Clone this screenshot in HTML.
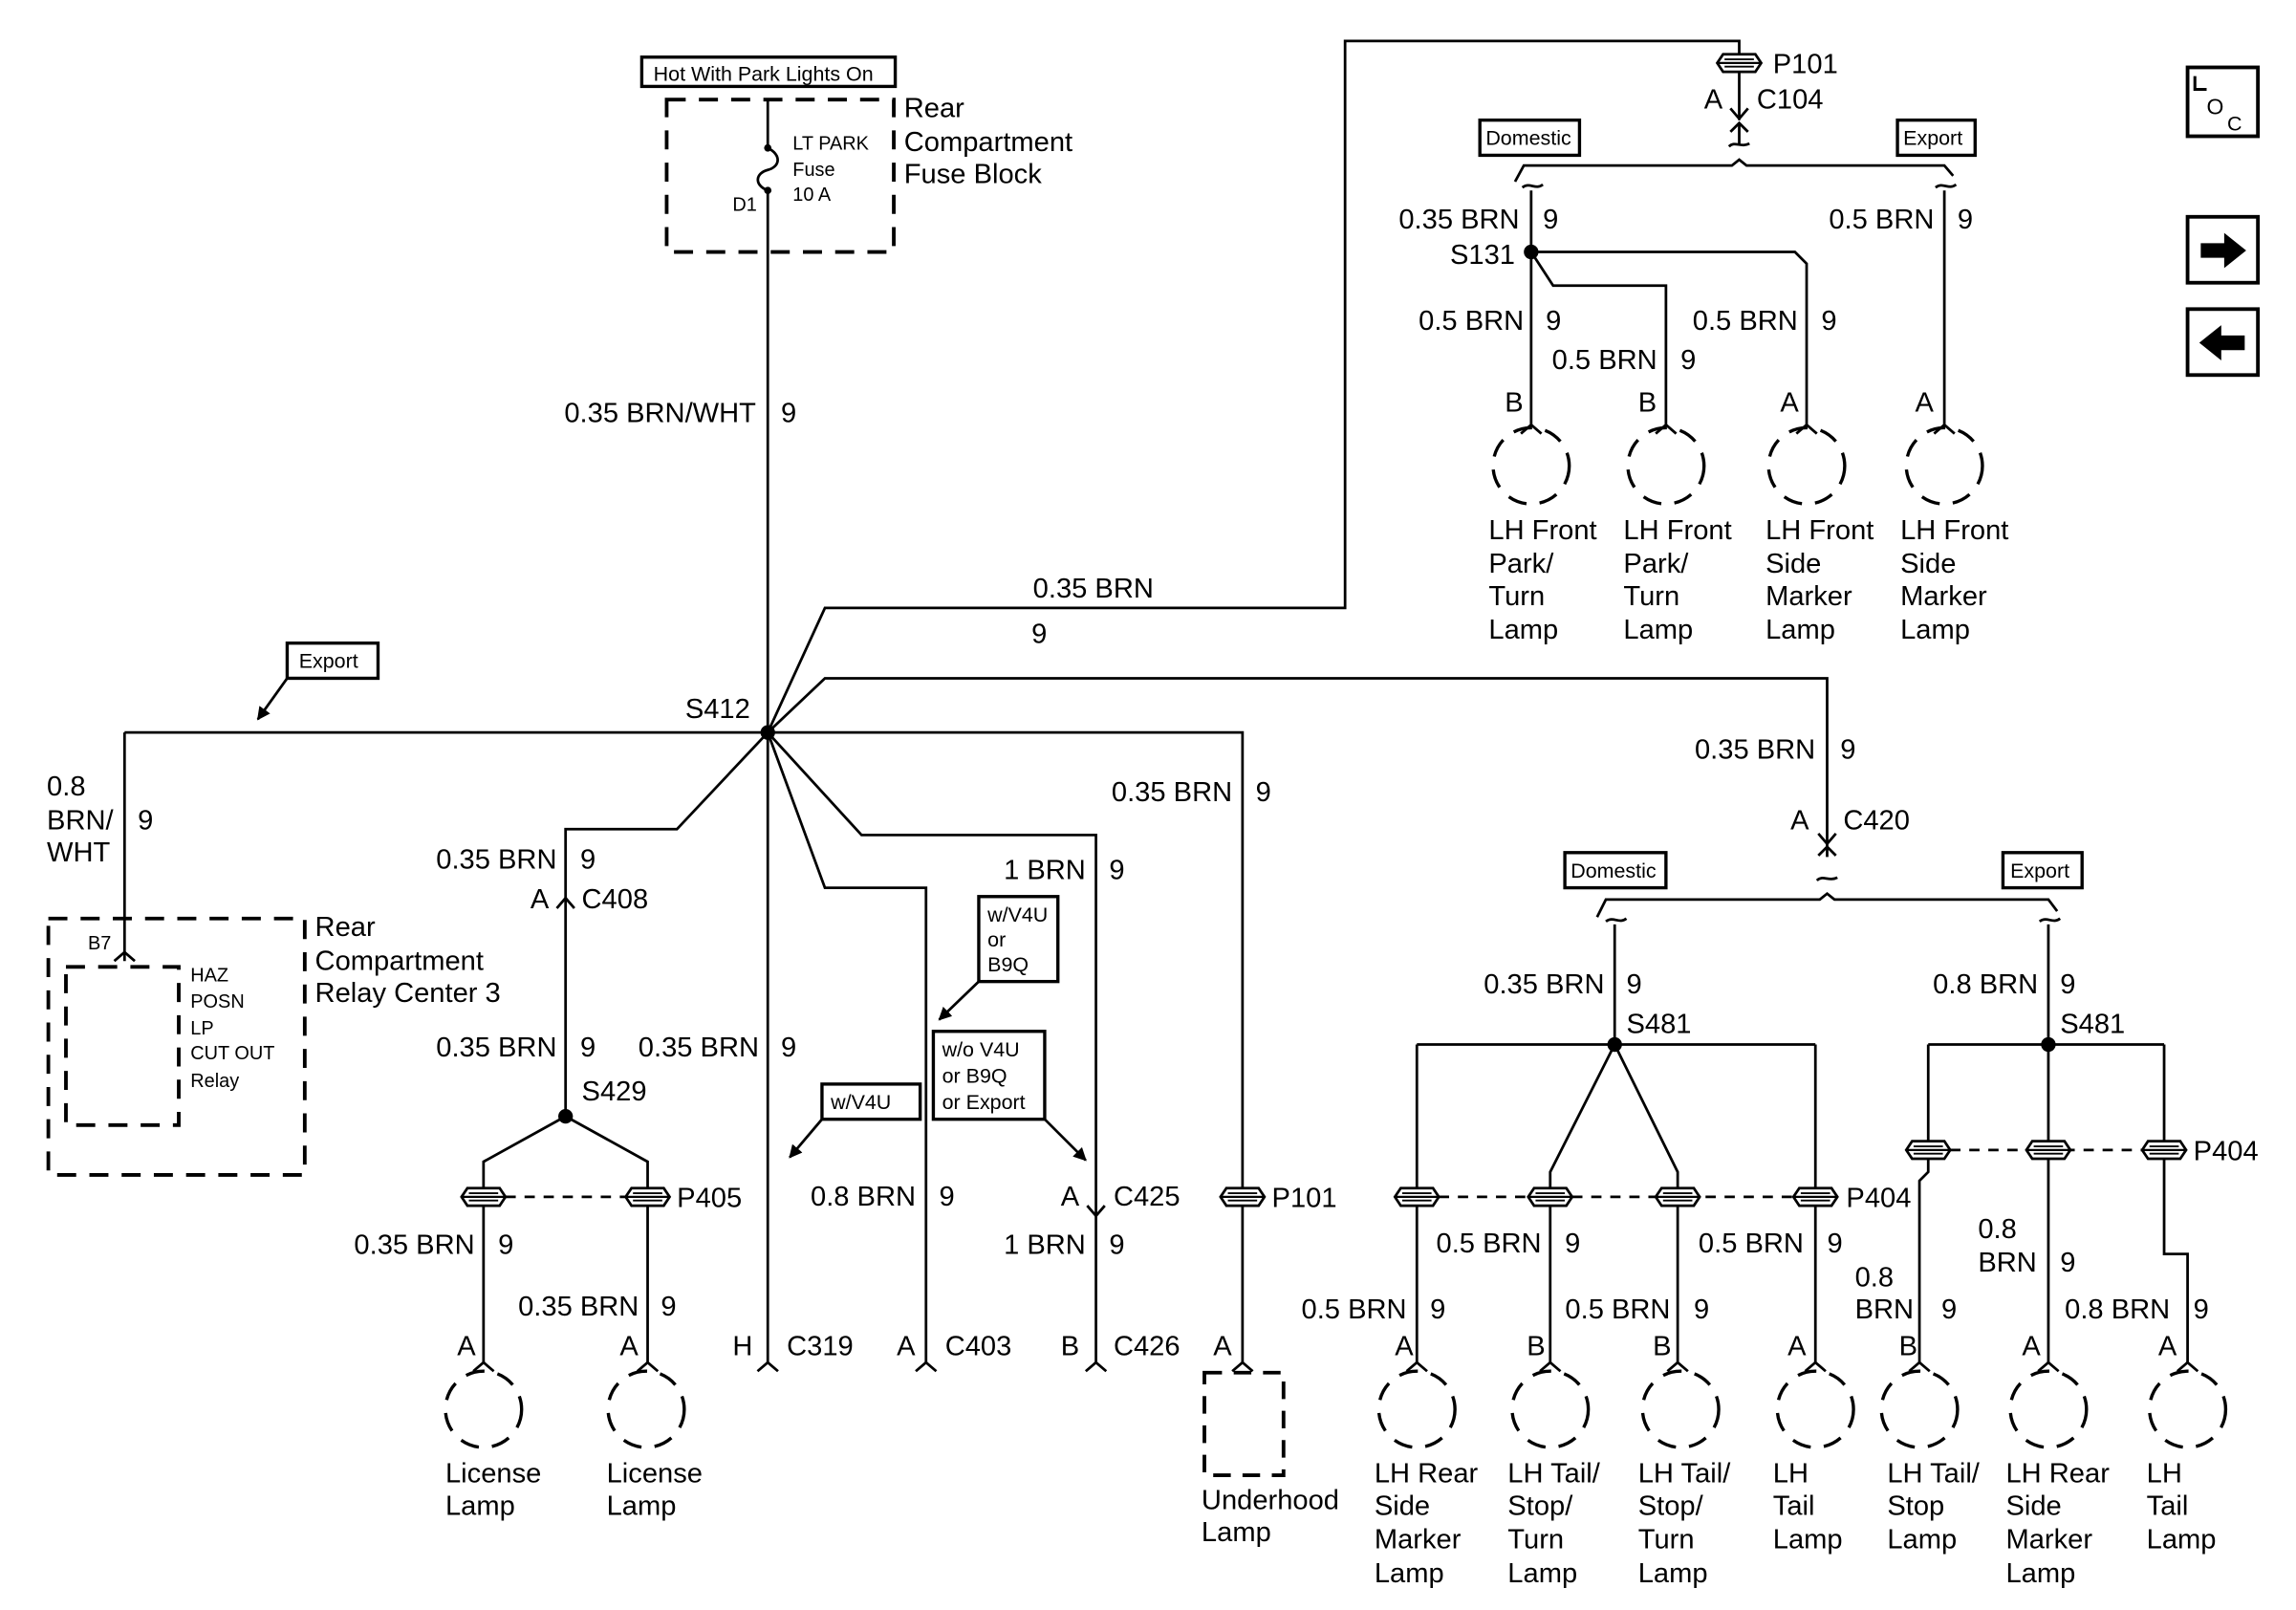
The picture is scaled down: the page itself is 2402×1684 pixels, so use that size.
<!DOCTYPE html>
<html><head><meta charset="utf-8"><style>
html,body{margin:0;padding:0;background:#fff;}
svg{display:block;}
text{font-family:"Liberation Sans",Arial,sans-serif;font-size:19px;fill:#000;}
.s{font-size:14px;}
.m{font-size:13px;}
.e{text-anchor:end;}
</style></head><body>
<svg width="2402" height="1684" viewBox="0 0 1567 1099" preserveAspectRatio="none" xmlns="http://www.w3.org/2000/svg">
<defs>
<g id="lamp"><circle r="26" fill="none" stroke="#000" stroke-width="2.2" stroke-dasharray="13 9"/></g>
<path id="fc" d="M-7,6 L0,0 L7,6" fill="none" stroke="#000" stroke-width="1.8"/>
<g id="pt"><path d="M-15,0 L-11,-6 L11,-6 L15,0 L11,6 L-11,6 Z" fill="#fff" stroke="#000" stroke-width="1.8"/><line x1="-15" y1="0" x2="15" y2="0" stroke="#000" stroke-width="1.5"/><line x1="-10" y1="-2.5" x2="10" y2="-2.5" stroke="#000" stroke-width="1.2"/><line x1="-10" y1="2.5" x2="10" y2="2.5" stroke="#000" stroke-width="1.2"/></g>
<marker id="ar" viewBox="0 0 10 10" refX="9" refY="5" markerWidth="5" markerHeight="5" orient="auto"><path d="M0,0 L10,5 L0,10 Z"/></marker>
</defs>
<g fill="none" stroke="#000" stroke-width="1.8">
<rect x="438" y="39" width="173" height="20" stroke-width="2.2"/>
<rect x="455" y="68" width="155" height="104" stroke-width="2.5" stroke-dasharray="13 9"/>
<line x1="524" y1="68" x2="524" y2="101"/>
<path d="M524,101 C534,106 532,114 524,116 C516,118 514,126 524,130"/>
<line x1="524" y1="130" x2="524" y2="500"/>
<path d="M524,500 L563,415 L918,415 L918,28 L1187,28 L1187,43"/>
<line x1="1187" y1="43" x2="1187" y2="82"/>
<path d="M1181,74 L1187,81 L1193,74"/>
<path d="M1181,90 L1187,84 L1193,90"/>
<line x1="1187" y1="84" x2="1187" y2="98"/>
<path d="M1180,100 C1184,96 1188,101 1194,98"/>
<path d="M1034,124 L1040,113 L1182,113 L1187,109 L1192,113 L1327,113 L1333,120"/>
<path d="M1039,128 C1044,124 1048,130 1053,126"/>
<path d="M1321,128 C1326,124 1330,130 1335,126"/>
<line x1="1045" y1="130" x2="1045" y2="172"/>
<line x1="1327" y1="130" x2="1327" y2="290"/>
<line x1="1045" y1="172" x2="1045" y2="290"/>
<path d="M1045,172 L1225,172 L1233,180 L1233,290"/>
<path d="M1045,172 L1060,195 L1137,195 L1137,290"/>
<path d="M524,500 L563,463 L1247,463 L1247,585"/>
<path d="M1241,569 L1247,576 L1253,569"/>
<path d="M1241,584 L1247,578 L1253,584"/>
<path d="M1240,601 C1244,597 1248,602 1254,599"/>
<path d="M1090,626 L1096,614 L1242,614 L1247,610 L1252,614 L1398,614 L1404,622"/>
<path d="M1096,629 C1101,625 1105,631 1110,627"/>
<path d="M1392,629 C1397,625 1401,631 1406,627"/>
<line x1="1102" y1="631" x2="1102" y2="713"/>
<line x1="967" y1="713" x2="1239" y2="713"/>
<line x1="967" y1="713" x2="967" y2="930"/>
<line x1="1239" y1="713" x2="1239" y2="930"/>
<path d="M1102,713 L1058,800 L1058,930"/>
<path d="M1102,713 L1145,800 L1145,930"/>
<line x1="1398" y1="631" x2="1398" y2="930"/>
<line x1="1316" y1="713" x2="1477" y2="713"/>
<path d="M1316,713 L1316,800 L1310,806 L1310,930"/>
<path d="M1477,713 L1477,856 L1493,856 L1493,930"/>
<line x1="982" y1="817" x2="1224" y2="817" stroke-dasharray="7 6"/>
<line x1="1331" y1="785" x2="1462" y2="785" stroke-dasharray="7 6"/>
<line x1="85" y1="500" x2="524" y2="500"/>
<line x1="85" y1="500" x2="85" y2="656"/>
<rect x="33" y="627" width="175" height="175" stroke-width="2.5" stroke-dasharray="13 9"/>
<rect x="45" y="660" width="77" height="108" stroke-width="2.5" stroke-dasharray="13 9"/>
<rect x="196" y="439" width="62" height="24" stroke-width="2.2"/>
<line x1="196" y1="463" x2="176" y2="491" marker-end="url(#ar)"/>
<path d="M524,500 L462,566 L386,566 L386,762"/>
<path d="M380,620 L386,613 L392,620"/>
<path d="M386,762 L330,793 L330,930"/>
<path d="M386,762 L442,793 L442,930"/>
<line x1="345" y1="817" x2="427" y2="817" stroke-dasharray="7 6"/>
<line x1="524" y1="500" x2="524" y2="930"/>
<path d="M524,500 L563,606 L632,606 L632,930"/>
<rect x="561" y="740" width="67" height="24" stroke-width="2.2"/>
<line x1="561" y1="764" x2="539" y2="790" marker-end="url(#ar)"/>
<path d="M524,500 L588,570 L748,570 L748,930"/>
<path d="M742,823 L748,830 L754,823"/>
<rect x="668" y="612" width="54" height="58" stroke-width="2.2"/>
<line x1="668" y1="670" x2="641" y2="696" marker-end="url(#ar)"/>
<rect x="637" y="704" width="76" height="60" stroke-width="2.2"/>
<line x1="713" y1="764" x2="741" y2="792" marker-end="url(#ar)"/>
<path d="M524,500 L848,500 L848,930"/>
<rect x="822" y="937" width="54" height="70" stroke-width="2.5" stroke-dasharray="12 8"/>
<rect x="1010" y="82" width="68" height="24" stroke-width="2.2"/>
<rect x="1295" y="82" width="53" height="24" stroke-width="2.2"/>
<rect x="1068" y="582" width="69" height="24" stroke-width="2.2"/>
<rect x="1367" y="582" width="54" height="24" stroke-width="2.2"/>
<rect x="1493" y="46" width="48" height="47" stroke-width="2.5"/>
<rect x="1493" y="148" width="48" height="45" stroke-width="2.5"/>
<rect x="1493" y="211" width="48" height="45" stroke-width="2.5"/>
</g>
<path d="M1502,166 L1518,166 L1518,159 L1533,171 L1518,183 L1518,176 L1502,176 Z"/>
<path d="M1532,229 L1516,229 L1516,222 L1501,234 L1516,246 L1516,239 L1532,239 Z"/>
<path d="M1498,52 L1498,61 L1506,61" fill="none" stroke="#000" stroke-width="2"/>
<text x="1506" y="78" style="font-size:15px">O</text>
<text x="1520" y="89" style="font-size:14px">C</text>
<circle cx="524" cy="101" r="2.5"/><circle cx="524" cy="130" r="2.5"/>
<circle cx="524" cy="500" r="5"/><circle cx="1045" cy="172" r="5"/>
<circle cx="386" cy="762" r="5"/><circle cx="1102" cy="713" r="5"/><circle cx="1398" cy="713" r="5"/>
<use href="#pt" x="1187" y="43"/>
<use href="#pt" x="330" y="817"/><use href="#pt" x="442" y="817"/>
<use href="#pt" x="848" y="817"/>
<use href="#pt" x="967" y="817"/><use href="#pt" x="1058" y="817"/><use href="#pt" x="1145" y="817"/><use href="#pt" x="1239" y="817"/>
<use href="#pt" x="1316" y="785"/><use href="#pt" x="1398" y="785"/><use href="#pt" x="1477" y="785"/>
<use href="#fc" x="85" y="650"/>
<use href="#fc" x="330" y="930"/><use href="#fc" x="442" y="930"/><use href="#fc" x="524" y="930"/><use href="#fc" x="632" y="930"/><use href="#fc" x="748" y="930"/><use href="#fc" x="848" y="930"/>
<use href="#fc" x="1045" y="290"/><use href="#fc" x="1137" y="290"/><use href="#fc" x="1233" y="290"/><use href="#fc" x="1327" y="290"/>
<use href="#fc" x="967" y="930"/><use href="#fc" x="1058" y="930"/><use href="#fc" x="1145" y="930"/><use href="#fc" x="1239" y="930"/>
<use href="#fc" x="1310" y="930"/><use href="#fc" x="1398" y="930"/><use href="#fc" x="1493" y="930"/>
<use href="#lamp" x="330" y="962"/><use href="#lamp" x="441" y="962"/>
<use href="#lamp" x="1045" y="318"/><use href="#lamp" x="1137" y="318"/><use href="#lamp" x="1233" y="318"/><use href="#lamp" x="1327" y="318"/>
<use href="#lamp" x="967" y="962"/><use href="#lamp" x="1058" y="962"/><use href="#lamp" x="1147" y="962"/><use href="#lamp" x="1239" y="962"/>
<use href="#lamp" x="1310" y="962"/><use href="#lamp" x="1398" y="962"/><use href="#lamp" x="1493" y="962"/>

<text x="446" y="55" class="s">Hot With Park Lights On</text>
<text x="541" y="102" class="m">LT PARK</text><text x="541" y="120" class="m">Fuse</text><text x="541" y="137" class="m">10 A</text>
<text x="500" y="144" class="m">D1</text>
<text x="617" y="80">Rear</text><text x="617" y="103">Compartment</text><text x="617" y="125">Fuse Block</text>
<text x="516" y="288" class="e">0.35 BRN/WHT</text><text x="533" y="288">9</text>
<text x="512" y="490" class="e">S412</text>
<text x="705" y="408">0.35 BRN</text><text x="704" y="439">9</text>
<text x="1210" y="50">P101</text><text x="1163" y="74">A</text><text x="1199" y="74">C104</text>
<text x="1014" y="99" class="s">Domestic</text><text x="1299" y="99" class="s">Export</text>
<text x="1037" y="156" class="e">0.35 BRN</text><text x="1053" y="156">9</text>
<text x="1034" y="180" class="e">S131</text>
<text x="1320" y="156" class="e">0.5 BRN</text><text x="1336" y="156">9</text>
<text x="1040" y="225" class="e">0.5 BRN</text><text x="1055" y="225">9</text>
<text x="1131" y="252" class="e">0.5 BRN</text><text x="1147" y="252">9</text>
<text x="1227" y="225" class="e">0.5 BRN</text><text x="1243" y="225">9</text>
<text x="1027" y="281">B</text><text x="1118" y="281">B</text><text x="1215" y="281">A</text><text x="1307" y="281">A</text>
<text x="1016" y="368">LH Front</text><text x="1016" y="391">Park/</text><text x="1016" y="413">Turn</text><text x="1016" y="436">Lamp</text>
<text x="1108" y="368">LH Front</text><text x="1108" y="391">Park/</text><text x="1108" y="413">Turn</text><text x="1108" y="436">Lamp</text>
<text x="1205" y="368">LH Front</text><text x="1205" y="391">Side</text><text x="1205" y="413">Marker</text><text x="1205" y="436">Lamp</text>
<text x="1297" y="368">LH Front</text><text x="1297" y="391">Side</text><text x="1297" y="413">Marker</text><text x="1297" y="436">Lamp</text>
<text x="204" y="456" class="s">Export</text>
<text x="32" y="543">0.8</text><text x="32" y="566">BRN/</text><text x="32" y="588">WHT</text><text x="94" y="566">9</text>
<text x="60" y="648" class="m">B7</text>
<text x="130" y="670" class="m">HAZ</text><text x="130" y="688" class="m">POSN</text><text x="130" y="706" class="m">LP</text><text x="130" y="723" class="m">CUT OUT</text><text x="130" y="742" class="m">Relay</text>
<text x="215" y="639">Rear</text><text x="215" y="662">Compartment</text><text x="215" y="684">Relay Center 3</text>
<text x="380" y="593" class="e">0.35 BRN</text><text x="396" y="593">9</text>
<text x="362" y="620">A</text><text x="397" y="620">C408</text>
<text x="380" y="721" class="e">0.35 BRN</text><text x="396" y="721">9</text>
<text x="518" y="721" class="e">0.35 BRN</text><text x="533" y="721">9</text>
<text x="397" y="751">S429</text>
<text x="462" y="824">P405</text>
<text x="324" y="856" class="e">0.35 BRN</text><text x="340" y="856">9</text>
<text x="436" y="898" class="e">0.35 BRN</text><text x="451" y="898">9</text>
<text x="312" y="925">A</text><text x="423" y="925">A</text>
<text x="500" y="925">H</text><text x="537" y="925">C319</text>
<text x="612" y="925">A</text><text x="645" y="925">C403</text>
<text x="724" y="925">B</text><text x="760" y="925">C426</text>
<text x="828" y="925">A</text>
<text x="304" y="1012">License</text><text x="304" y="1034">Lamp</text>
<text x="414" y="1012">License</text><text x="414" y="1034">Lamp</text>
<text x="567" y="757" class="s">w/V4U</text>
<text x="674" y="629" class="s">w/V4U</text><text x="674" y="646" class="s">or</text><text x="674" y="663" class="s">B9Q</text>
<text x="643" y="721" class="s">w/o V4U</text><text x="643" y="739" class="s">or B9Q</text><text x="643" y="757" class="s">or Export</text>
<text x="625" y="823" class="e">0.8 BRN</text><text x="641" y="823">9</text>
<text x="741" y="600" class="e">1 BRN</text><text x="757" y="600">9</text>
<text x="724" y="823">A</text><text x="760" y="823">C425</text>
<text x="741" y="856" class="e">1 BRN</text><text x="757" y="856">9</text>
<text x="841" y="547" class="e">0.35 BRN</text><text x="857" y="547">9</text>
<text x="868" y="824">P101</text>
<text x="820" y="1030">Underhood</text><text x="820" y="1052">Lamp</text>
<text x="1239" y="518" class="e">0.35 BRN</text><text x="1256" y="518">9</text>
<text x="1222" y="566">A</text><text x="1258" y="566">C420</text>
<text x="1072" y="599" class="s">Domestic</text><text x="1372" y="599" class="s">Export</text>
<text x="1095" y="678" class="e">0.35 BRN</text><text x="1110" y="678">9</text>
<text x="1110" y="705">S481</text>
<text x="1391" y="678" class="e">0.8 BRN</text><text x="1406" y="678">9</text>
<text x="1406" y="705">S481</text>
<text x="1260" y="824">P404</text><text x="1497" y="792">P404</text>
<text x="1052" y="855" class="e">0.5 BRN</text><text x="1068" y="855">9</text>
<text x="1231" y="855" class="e">0.5 BRN</text><text x="1247" y="855">9</text>
<text x="960" y="900" class="e">0.5 BRN</text><text x="976" y="900">9</text>
<text x="1140" y="900" class="e">0.5 BRN</text><text x="1156" y="900">9</text>
<text x="1350" y="845">0.8</text><text x="1350" y="868">BRN</text><text x="1406" y="868">9</text>
<text x="1266" y="878">0.8</text><text x="1266" y="900">BRN</text><text x="1325" y="900">9</text>
<text x="1481" y="900" class="e">0.8 BRN</text><text x="1497" y="900">9</text>
<text x="952" y="925">A</text><text x="1042" y="925">B</text><text x="1128" y="925">B</text><text x="1220" y="925">A</text>
<text x="1296" y="925">B</text><text x="1380" y="925">A</text><text x="1473" y="925">A</text>
<text x="938" y="1012">LH Rear</text><text x="938" y="1034">Side</text><text x="938" y="1057">Marker</text><text x="938" y="1080">Lamp</text>
<text x="1029" y="1012">LH Tail/</text><text x="1029" y="1034">Stop/</text><text x="1029" y="1057">Turn</text><text x="1029" y="1080">Lamp</text>
<text x="1118" y="1012">LH Tail/</text><text x="1118" y="1034">Stop/</text><text x="1118" y="1057">Turn</text><text x="1118" y="1080">Lamp</text>
<text x="1210" y="1012">LH</text><text x="1210" y="1034">Tail</text><text x="1210" y="1057">Lamp</text>
<text x="1288" y="1012">LH Tail/</text><text x="1288" y="1034">Stop</text><text x="1288" y="1057">Lamp</text>
<text x="1369" y="1012">LH Rear</text><text x="1369" y="1034">Side</text><text x="1369" y="1057">Marker</text><text x="1369" y="1080">Lamp</text>
<text x="1465" y="1012">LH</text><text x="1465" y="1034">Tail</text><text x="1465" y="1057">Lamp</text>
</svg>
</body></html>
